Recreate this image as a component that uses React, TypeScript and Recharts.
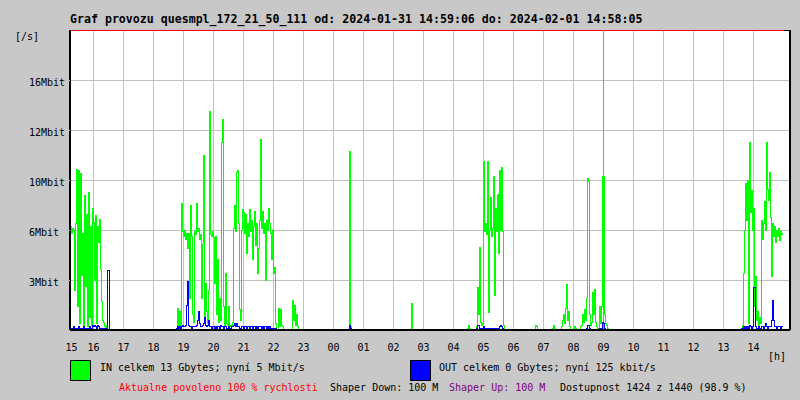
import React from 'react';
import { LineChart, Line, XAxis, YAxis, CartesianGrid, ReferenceLine } from 'recharts';

const FONT = '"DejaVu Sans Mono", "Liberation Mono", monospace';

const title = 'Graf provozu quesmpl_172_21_50_111 od: 2024-01-31 14:59:06 do: 2024-02-01 14:58:05';

// x axis is minutes since 15:00, samples every 2 minutes
const hourTicks = [16, 60, 120, 180, 240, 300, 360, 420, 480, 540, 600, 660, 720, 780, 840, 900, 960, 1020, 1080, 1140, 1200, 1260, 1320, 1380];
const hourLabels = ['15', '16', '17', '18', '19', '20', '21', '22', '23', '00', '01', '02', '03', '04', '05', '06', '07', '08', '09', '10', '11', '12', '13', '14'];

const yTicks = [3.2, 6.4, 9.6, 12.8, 16];
const yLabels = ['3Mbit', '6Mbit', '10Mbit', '12Mbit', '16Mbit'];

// traffic in Mbit/s, one value per sample
const inA = [6.6, 6.2, 6.5, 6.4, 2.5, 6.8, 10.3, 1.5, 10.2, 0.4, 10.0, 3.5, 6.2, 0.3, 8.6, 2.8, 7.4, 0.2, 8.8, 0.8, 6.6, 0.3, 7.8, 6.9, 3.2, 7.3, 0.4, 6.6, 5.6, 7.1, 3.9, 1.8, 0.6, 0.5, 0.2, 0, 0.3, 0, 0, 0];
const outA = [0.1, 0.1, 0.1, 0.2, 0.1, 0.1, 0.1, 0.1, 0.2, 0.1, 0.1, 0.1, 0.1, 0.2, 0.1, 0.1, 0.1, 0.1, 0.1, 0.2, 0.1, 0.1, 0.3, 0.2, 0.3, 0.2, 0.1, 0.3, 0.2, 0.1, 0.1, 0.1, 0.1, 0.1, 0.1, 0.1, 0.1, 3.8, 3.8, 0];

const inB = [
  0, 1.4, 0.2, 1.2, 0.3, 8.1, 6.3, 6.0, 6.4, 5.8,
  6.2, 5.2, 6.2, 2.0, 8.0, 6.0, 1.0, 0.5, 6.3, 6.1,
  8.1, 6.3, 6.5, 5.8, 6.1, 2.0, 5.5, 11.2, 0.8, 3.0,
  1.2, 0.4, 2.5, 14.0, 6.1, 6.0, 6.3, 5.9, 3.0, 6.0,
  1.0, 4.5, 0.5, 2.0, 0.6, 12.0, 13.5, 1.5, 0.3, 3.6,
  0.4, 0.3, 1.5, 0.3, 0.2, 0.3, 0.5, 6.5, 8.0, 6.3,
  10.1, 10.2, 6.8, 1.3, 0.6, 6.4, 7.7, 7.5, 6.2, 7.4,
  4.9, 6.8, 6.0, 7.7, 6.3, 7.0, 4.5, 6.6, 7.6, 5.4,
  6.8, 3.6, 5.2, 7.0, 12.2, 6.5, 7.6, 6.2, 6.8, 3.2,
  7.0, 6.4, 7.8, 6.8, 6.2, 4.5, 6.4, 3.6, 4.0, 0.4,
  0, 0, 1.4, 0.2, 1.3, 0.3, 0.2, 0, 0, 0,
  0, 0, 0, 0, 0, 0, 1.9, 0.6, 1.6, 0.3,
  1.0, 0.2, 0, 0,
];
const outB = [
  0.1, 0.2, 0.1, 0.2, 0.1, 0.2, 0.3, 0.2, 0.2, 0.3,
  1.6, 3.1, 0.3, 0.2, 0.2, 0.1, 0.2, 0.2, 0.2, 0.2,
  0.3, 0.6, 1.2, 0.4, 0.2, 0.2, 0.3, 0.4, 0.8, 0.3,
  0.2, 0.3, 0.6, 0.2, 0.2, 0.1, 0.2, 0.2, 0.1, 0.2,
  0.1, 0.2, 0.2, 0.1, 0.3, 0.2, 0.2, 0.1, 0.2, 0.2,
  0.1, 0.1, 0.2, 0.1, 0.1, 0.2, 0.2, 0.3, 0.4, 0.2,
  0.4, 0.2, 0.2, 0.1, 0.1, 0.2, 0.2, 0.1, 0.2, 0.2,
  0.1, 0.2, 0.2, 0.1, 0.2, 0.2, 0.1, 0.2, 0.2, 0.1,
  0.2, 0.1, 0.2, 0.2, 0.2, 0.1, 0.2, 0.1, 0.2, 0.2,
  0.1, 0.2, 0.1, 0.2, 0.1, 0.1, 0.1, 0.1, 0.1, 0.1,
  0, 0, 0, 0, 0, 0, 0, 0, 0, 0,
  0, 0, 0, 0, 0, 0, 0, 0, 0, 0,
  0, 0, 0, 0,
];

const inC = [0, 11.4, 0.2, 0];
const outC = [0, 0.3, 0.1, 0];

const inD = [0, 1.7, 0];
const outD = [0, 0, 0];

const inE = [0, 0.1, 0.3, 0.1, 0, 0, 0, 0, 0, 0, 0.2, 2.7, 1.0, 5.3, 0.5, 0.3, 0.4, 10.8, 6.3, 6.8, 6.1, 10.8, 1.1, 6.4, 8.5, 6.0, 6.5, 9.8, 2.2, 7.8, 6.3, 8.7, 4.9, 10.2, 6.4, 10.4, 6.3, 0.3, 0];
const outE = [0, 0, 0, 0, 0, 0, 0, 0, 0, 0, 0.1, 0.3, 0.3, 0.1, 0.1, 0.1, 0.1, 0.2, 0.1, 0.1, 0.1, 0.1, 0.1, 0.1, 0.1, 0.1, 0.1, 0.1, 0.1, 0.1, 0.1, 0.1, 0.1, 0.2, 0.3, 0.2, 0.1, 0, 0];

const inF = [
  0, 0.3, 0.2, 0, 0, 0, 0, 0, 0, 0,
  0, 0, 0, 0, 0, 0, 0, 0, 0.1, 0.3,
  0.1, 0, 0, 0, 0, 0, 0, 0.2, 0.6, 1.0,
  0.4, 1.4, 2.9, 0.6, 1.2, 0.2, 0, 0, 0, 0.1,
  0.2, 0.1, 0, 0, 0, 0, 0.2, 0.3, 1.0, 0.5,
  1.3, 0.6, 2.0, 9.7, 9.5, 1.0, 0.3, 0.5, 2.4, 1.0,
  2.6, 0.5, 0.2, 0, 0.1, 1.5, 0.4, 1.5, 9.8, 9.8,
  1.0, 0.4, 0.3, 0.1, 0,
];
const outF = [
  0, 0, 0, 0, 0, 0, 0, 0, 0, 0,
  0, 0, 0, 0, 0, 0, 0, 0, 0, 0,
  0, 0, 0, 0, 0, 0, 0, 0, 0, 0,
  0, 0, 0, 0, 0, 0, 0, 0, 0, 0,
  0, 0, 0, 0, 0, 0, 0, 0, 0, 0,
  0, 0, 0.1, 0.3, 0.3, 0.1, 0, 0, 0, 0,
  0, 0, 0, 0, 0, 0.1, 0, 0.1, 0.5, 0.4,
  0.1, 0, 0, 0, 0,
];

const inG = [0, 0.1, 0.3, 3.6, 6.4, 9.4, 7.0, 9.6, 0.4, 12.0, 7.5, 8.9, 6.4, 7.8, 1.5, 3.4, 0.6, 1.2, 0.3, 0.8, 0.4, 7.0, 5.8, 6.8, 8.2, 6.4, 12.0, 9.0, 8.3, 10.1, 7.2, 3.4, 6.8, 6.0, 6.6, 5.6, 6.4, 6.0, 6.5, 5.7, 6.3, 6.1, 6.2];
const outG = [0, 0.1, 0.1, 0.2, 0.1, 0.2, 0.1, 0.2, 0.1, 0.3, 0.2, 0.1, 0.2, 2.7, 2.7, 0.2, 0.1, 0.1, 0.2, 0.1, 0.1, 0.2, 0.2, 0.1, 0.2, 0.4, 0.2, 0.1, 0.2, 0.2, 0.2, 0.6, 1.9, 0.6, 0.2, 0.2, 0.1, 0.2, 0.2, 0.2, 0.1, 0.2, 0.2];

const toMinutes = (hhmm: string) => {
  const [h, m] = hhmm.split(':').map(Number);
  return (h * 60 + m - 900 + 1440) % 1440;
};

const bursts = [
  { start: '15:14', inMbit: inA, outMbit: outA },
  { start: '18:46', inMbit: inB, outMbit: outB },
  { start: '00:30', inMbit: inC, outMbit: outC },
  { start: '02:34', inMbit: inD, outMbit: outD },
  { start: '04:26', inMbit: inE, outMbit: outE },
  { start: '06:42', inMbit: inF, outMbit: outF },
  { start: '13:34', inMbit: inG, outMbit: outG },
];

const data = bursts.flatMap(b =>
  b.inMbit.map((v, i) => ({ t: toMinutes(b.start) + 2 * i, in: v, out: b.outMbit[i] }))
);

const X_MIN = 13;
const X_MAX = 1453;
const Y_MAX = 19.2;

const XTick = (props: any) => {
  const { x, index } = props;
  return (
    <text x={x} y={351} textAnchor="middle" fontFamily={FONT} fontSize={10} fill="#000">
      {hourLabels[index]}
    </text>
  );
};

const YTick = (props: any) => {
  const { y, index } = props;
  return (
    <text x={29} y={y + 6} fontFamily={FONT} fontSize={10} fill="#000">
      {yLabels[index]}
    </text>
  );
};

export default function App() {
  return (
    <div style={{ position: 'absolute', left: 0, top: 0, width: 800, height: 400, background: '#c8c8c8' }}>
      <style>{'.recharts-surface { shape-rendering: crispEdges; }'}</style>
      <LineChart width={800} height={400} data={data} margin={{ top: 30, right: 10, left: 0, bottom: 0 }}>
        <CartesianGrid
          stroke="#c0c0c0"
          fill="#ffffff"
          verticalCoordinatesGenerator={({ offset }: any) => {
            const left = offset?.left ?? 70;
            const w = offset?.width ?? 720;
            return hourTicks.slice(1).map(m => left + ((m - X_MIN) / (X_MAX - X_MIN)) * w);
          }}
        />
        <XAxis
          dataKey="t"
          type="number"
          domain={[X_MIN, X_MAX]}
          ticks={hourTicks}
          interval={0}
          tick={XTick}
          tickLine={false}
          axisLine={{ stroke: '#000', strokeWidth: 2 }}
          height={70}
          allowDataOverflow
        />
        <YAxis
          type="number"
          domain={[0, Y_MAX]}
          ticks={yTicks}
          interval={0}
          tick={YTick}
          tickLine={{ stroke: '#c0c0c0' }}
          tickSize={9}
          axisLine={{ stroke: '#000', strokeWidth: 2 }}
          width={70}
          allowDataOverflow
        />
        <ReferenceLine y={Y_MAX} stroke="#000" />
        <ReferenceLine segment={[{ x: X_MIN, y: Y_MAX }, { x: 1440, y: Y_MAX }]} stroke="#ff0000" />
        <ReferenceLine x={X_MAX} stroke="#000" strokeWidth={2} />
        <ReferenceLine x={toMinutes('09:00')} stroke="#00ff00" />
        <Line type="stepAfter" dataKey="in" stroke="#00ff00" strokeWidth={1} dot={false} isAnimationActive={false} />
        <Line type="stepAfter" dataKey="out" stroke="#0000ff" strokeWidth={1} dot={false} isAnimationActive={false} />
      </LineChart>
      <svg
        width={800}
        height={400}
        style={{ position: 'absolute', left: 0, top: 0, pointerEvents: 'none' }}
        fontFamily={FONT}
        fontSize={10}
      >
        <text x={70} y={23} fontSize={11.6} fontWeight="bold" fill="#000">{title}</text>
        <text x={15} y={40} fill="#000">[/s]</text>
        <text x={768} y={360} fill="#000">[h]</text>
        <rect x={70.5} y={360.5} width={20} height={20} fill="#00ff00" stroke="#000" />
        <text x={100} y={371} fill="#000">IN celkem 13 Gbytes; nyní 5 Mbit/s</text>
        <rect x={410.5} y={360.5} width={20} height={20} fill="#0000ff" stroke="#000" />
        <text x={439} y={371} fill="#000">OUT celkem 0 Gbytes; nyní 125 kbit/s</text>
        <text x={119} y={391} fill="#ff0000">Aktualne povoleno 100 % rychlosti</text>
        <text x={330} y={391} fill="#000">Shaper Down: 100 M</text>
        <text x={449} y={391} fill="#800080">Shaper Up: 100 M</text>
        <text x={560} y={391} fill="#000">Dostupnost 1424 z 1440 (98.9 %)</text>
      </svg>
    </div>
  );
}
